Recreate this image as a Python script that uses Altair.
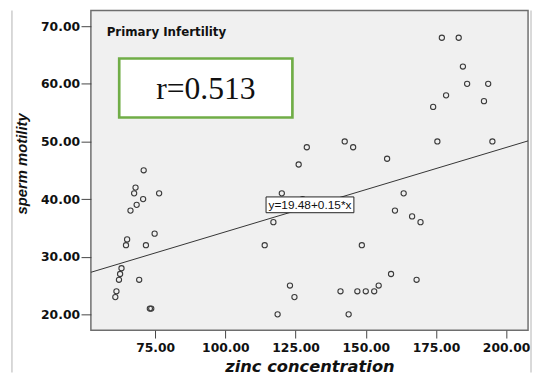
import altair as alt
import pandas as pd

# ---- data ----
zinc = [70.9, 68.0, 67.5, 76.4, 70.7, 68.4, 66.2, 65.0, 64.6, 71.7, 74.8, 63.0, 62.5, 62.1, 69.3, 61.2, 60.8, 73.1, 73.6,
        114.0, 117.1, 120.1, 127.5, 126.1, 129.0, 123.0, 124.6, 118.6,
        142.5, 145.5, 148.6, 141.0, 143.9, 147.0, 150.0, 153.0, 154.6, 159.0, 157.6, 163.5, 160.4, 166.5, 169.5, 168.1,
        177.1, 183.1, 184.6, 186.1, 193.6, 178.6, 192.1, 174.0, 175.5, 195.1]
motility = [45, 42, 41, 41, 40, 39, 38, 33, 32, 32, 34, 28, 27, 26, 26, 24, 23, 21, 21,
            32, 36, 41, 40, 46, 49, 25, 23, 20,
            50, 49, 32, 24, 20, 24, 24, 24, 25, 27, 47, 41, 38, 37, 36, 26,
            68, 68, 63, 60, 60, 58, 57, 56, 50, 50]

line_x = [52.1, 207.8]
line_y = [27.3, 50.1]

x_domain = [52.1, 207.8]
y_domain = [17.26, 72.74]
x_ticks = [75, 100, 125, 150, 175, 200]
y_ticks = [20, 30, 40, 50, 60, 70]

panel_label = "Primary Infertility"
r_label = "r=0.513"
eq_label = "y=19.48+0.15*x"

pts = pd.DataFrame({"zinc": zinc, "motility": motility})
fit = pd.DataFrame({"zinc": line_x, "motility": line_y})

xs = alt.Scale(domain=x_domain, nice=False, zero=False)
ys = alt.Scale(domain=y_domain, nice=False, zero=False)

x_axis = alt.Axis(values=x_ticks, format=".2f", title="zinc concentration", grid=False, domain=False,
                  tickSize=8, tickColor="#444444", tickWidth=1, labelFont="DejaVu Sans", labelFontWeight="bold",
                  labelFontSize=12.5, labelColor="#111111", labelPadding=4, labelFlush=False, labelOverlap=False,
                  titleFont="DejaVu Sans", titleFontWeight="bold", titleFontStyle="italic", titleFontSize=16.5,
                  titleColor="#111111", titleY=42, titleBaseline="alphabetic")
y_axis = alt.Axis(values=y_ticks, format=".2f", title="sperm motility", grid=False, domain=False,
                  tickSize=10, tickColor="#444444", tickWidth=1, labelFont="DejaVu Sans", labelFontWeight="bold",
                  labelFontSize=12.5, labelColor="#111111", labelPadding=1.5, labelFlush=False, labelOverlap=False,
                  titleFont="Liberation Sans", titleFontWeight="bold", titleFontStyle="italic", titleFontSize=15,
                  titleColor="#111111", titleX=-65, titleY=155, titleAngle=270, titleBaseline="alphabetic",
                  titleAlign="center")

points = alt.Chart(pts).mark_point(shape="circle", filled=False, size=28, strokeWidth=1.1,
                                   color="#3a3a3a", opacity=1).encode(
    x=alt.X("zinc:Q", scale=xs, axis=x_axis),
    y=alt.Y("motility:Q", scale=ys, axis=y_axis),
)

line = alt.Chart(fit).mark_line(color="#333333", strokeWidth=1).encode(
    x=alt.X("zinc:Q", scale=xs),
    y=alt.Y("motility:Q", scale=ys),
)

eq_box = alt.Chart(pd.DataFrame({"t": [eq_label]})).mark_rect(fill="white", stroke="#222222", strokeWidth=1).encode(
    x=alt.value(177.5), x2=alt.value(266.5), y=alt.value(189), y2=alt.value(205))
eq_text = alt.Chart(pd.DataFrame({"t": [eq_label]})).mark_text(
    font="Liberation Sans", fontSize=12, color="#111111", align="center", baseline="alphabetic").encode(
    text="t:N", x=alt.value(222), y=alt.value(201.3))

r_box = alt.Chart(pd.DataFrame({"t": [r_label]})).mark_rect(fill="white", stroke="#70ad47", strokeWidth=2.7).encode(
    x=alt.value(28.7), x2=alt.value(204.2), y=alt.value(48.7), y2=alt.value(108.5))
r_text = alt.Chart(pd.DataFrame({"t": [r_label]})).mark_text(
    font="Liberation Serif", fontSize=32, color="#111111", align="center", baseline="alphabetic").encode(
    text="t:N", x=alt.value(116.5), y=alt.value(90))

title_text = alt.Chart(pd.DataFrame({"t": [panel_label]})).mark_text(
    font="DejaVu Sans", fontSize=12, fontWeight="bold", color="#111111", align="left", baseline="alphabetic").encode(
    text="t:N", x=alt.value(16), y=alt.value(26))

# faint outer frame of the original figure (left and right edges)
frame_left = alt.Chart(pd.DataFrame({"t": ["frame"]})).mark_rule(color="#cccccc", strokeWidth=1.5).encode(
    x=alt.value(-80), y=alt.value(0), y2=alt.value(367))
frame_right = alt.Chart(pd.DataFrame({"t": ["frame"]})).mark_rule(color="#cccccc", strokeWidth=1.5).encode(
    x=alt.value(446), y=alt.value(0), y2=alt.value(367))

chart = alt.layer(frame_left, frame_right, points, line, eq_box, eq_text, r_box, r_text, title_text).properties(
    width=443, height=324,
    padding={"left": 84, "top": 0, "right": 4, "bottom": 43},
    autosize=alt.AutoSizeParams(type="none"),
).configure_view(fill="#f0f0f0", stroke="#6e6e6e", strokeWidth=1.5)

chart.save("out.html", embed_options={"renderer": "svg", "actions": False})
